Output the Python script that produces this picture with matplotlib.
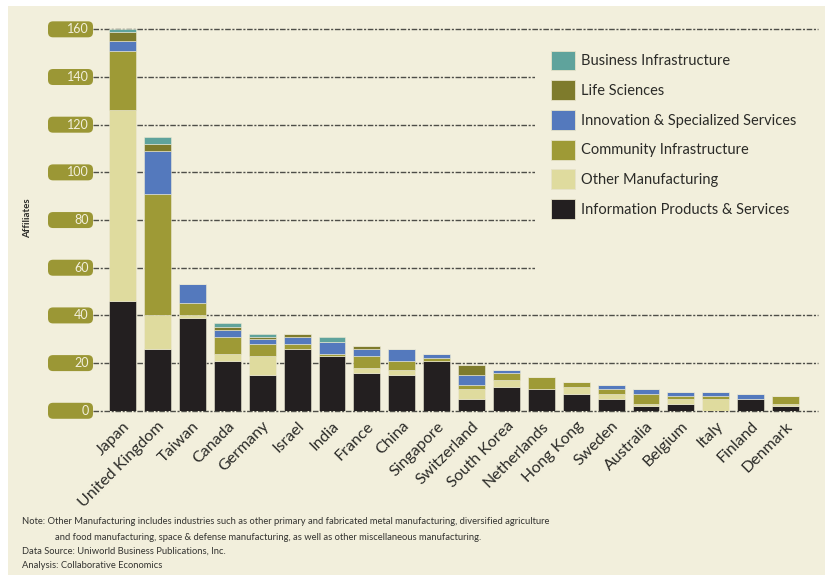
import matplotlib
matplotlib.use('Agg')
import matplotlib.pyplot as plt
import matplotlib.transforms as mtransforms
from matplotlib.patches import FancyBboxPatch, Rectangle, Patch

plt.rcParams['font.family'] = ['Lato', 'DejaVu Sans']

# 各国分行业的关联企业数量
countries = ['Japan', 'United Kingdom', 'Taiwan', 'Canada', 'Germany', 'Israel',
             'India', 'France', 'China', 'Singapore', 'Switzerland', 'South Korea',
             'Netherlands', 'Hong Kong', 'Sweden', 'Australia', 'Belgium', 'Italy',
             'Finland', 'Denmark']
info = [46, 26, 39, 21, 15, 26, 23, 16, 15, 21, 5, 10, 9, 7, 5, 2, 3, 0, 5, 2]
other = [80, 14, 1, 3, 8, 0, 0, 2, 2, 0, 4, 3, 0, 3, 2, 1, 2, 5, 0, 1]
community = [25, 51, 5, 7, 5, 2, 1, 5, 4, 1, 2, 3, 5, 2, 2, 4, 1, 1, 0, 3]
innovation = [4, 18, 8, 3, 2, 3, 5, 3, 5, 2, 4, 1, 0, 0, 2, 2, 2, 2, 2, 0]
life = [4, 3, 0, 1, 1, 1, 0, 1, 0, 0, 4, 0, 0, 0, 0, 0, 0, 0, 0, 0]
business = [1, 3, 0, 2, 1, 0, 2, 0, 0, 0, 0, 0, 0, 0, 0, 0, 0, 0, 0, 0]

series = [
    ('Information Products & Services', info, '#231f20'),
    ('Other Manufacturing', other, '#dfdb9e'),
    ('Community Infrastructure', community, '#9e9a36'),
    ('Innovation & Specialized Services', innovation, '#5479bd'),
    ('Life Sciences', life, '#7e7b2c'),
    ('Business Infrastructure', business, '#5fa39c'),
]
yticks = [0, 20, 40, 60, 80, 100, 120, 140, 160]

cream = '#f2efdc'
olive = '#9b9735'

fig = plt.figure(figsize=(8.26, 5.75), dpi=100, facecolor='white')
fig.patches.append(Rectangle((8 / 826, 0), 817 / 826, 569 / 575,
                             transform=fig.transFigure, facecolor=cream,
                             edgecolor='none', zorder=-10))

ax = fig.add_axes([93 / 826, 0.2856, 725 / 826, 0.6634])
ax.set_facecolor('none')
ax.set_xlim(-0.85, 19.93)
ax.set_ylim(0, 160)

# 堆叠柱状图
x = range(len(countries))
bottom = [0] * len(countries)
handles = []
for name, vals, color in series:
    ax.bar(x, vals, width=0.77, bottom=bottom, color=color,
           edgecolor='#ece9d4', linewidth=0.4, zorder=3)
    bottom = [b + v for b, v in zip(bottom, vals)]
    handles.append(Patch(facecolor=color, edgecolor='#e6e2c8', linewidth=0.6, label=name))

# 网格线
for y in yticks:
    ax.axhline(y, color='#4e4e48', linewidth=1.0, dashes=(4, 1.2, 1.5, 1.2),
               zorder=1, clip_on=False)

# 图例底板，遮住后面的网格线
blend_x = mtransforms.blended_transform_factory(ax.transAxes, ax.transData)
ax.add_patch(Rectangle((442 / 725, 51), 290 / 725, 106, transform=blend_x,
                       facecolor=cream, edgecolor='none', zorder=2, clip_on=False))

for s in ax.spines.values():
    s.set_visible(False)
ax.set_yticks([])
ax.set_xticks(list(x))
ax.set_xticklabels(countries, rotation=45, ha='right', va='top',
                   rotation_mode='anchor', fontsize=11.5, color='#2b2b28')
ax.tick_params(axis='x', length=0, pad=6)

# 纵轴刻度：圆角标签
for y in yticks:
    trans = fig.dpi_scale_trans + mtransforms.ScaledTranslation(0, y, blend_x)
    pill = FancyBboxPatch((-0.45, -0.08), 0.45, 0.16,
                          boxstyle='round,pad=0,rounding_size=0.05',
                          transform=trans, facecolor=olive, edgecolor='none',
                          clip_on=False, zorder=2)
    ax.add_patch(pill)
    ax.text(-0.045, 0, str(y), transform=trans, ha='right', va='center',
            fontsize=9, color=cream, zorder=3)

fig.text(28 / 826, 1 - 218 / 575, 'Affiliates', rotation=90, ha='center',
         va='center', fontsize=7, fontweight='bold', color='#2b2b28')

ax.legend(handles[::-1], [h.get_label() for h in handles[::-1]],
          loc='upper left', bbox_to_anchor=(551 / 826, 1 - 50.5 / 575),
          bbox_transform=fig.transFigure, frameon=False, fontsize=10.5,
          handlelength=1.65, handleheight=1.73, labelspacing=0.67,
          handletextpad=0.41, borderpad=0, borderaxespad=0,
          labelcolor='#2b2b28')

notes = [
    (22, 521, 'Note: Other Manufacturing includes industries such as other primary and fabricated metal manufacturing, diversified agriculture'),
    (55, 537, 'and food manufacturing, space & defense manufacturing, as well as other miscellaneous manufacturing.'),
    (22, 551, 'Data Source: Uniworld Business Publications, Inc.'),
    (22, 566, 'Analysis: Collaborative Economics'),
]
for nx, ny, txt in notes:
    fig.text(nx / 826, 1 - ny / 575, txt, ha='left', va='center',
             fontsize=6.75, color='#333330')

fig.savefig('out.png', dpi=100, facecolor=fig.get_facecolor())
